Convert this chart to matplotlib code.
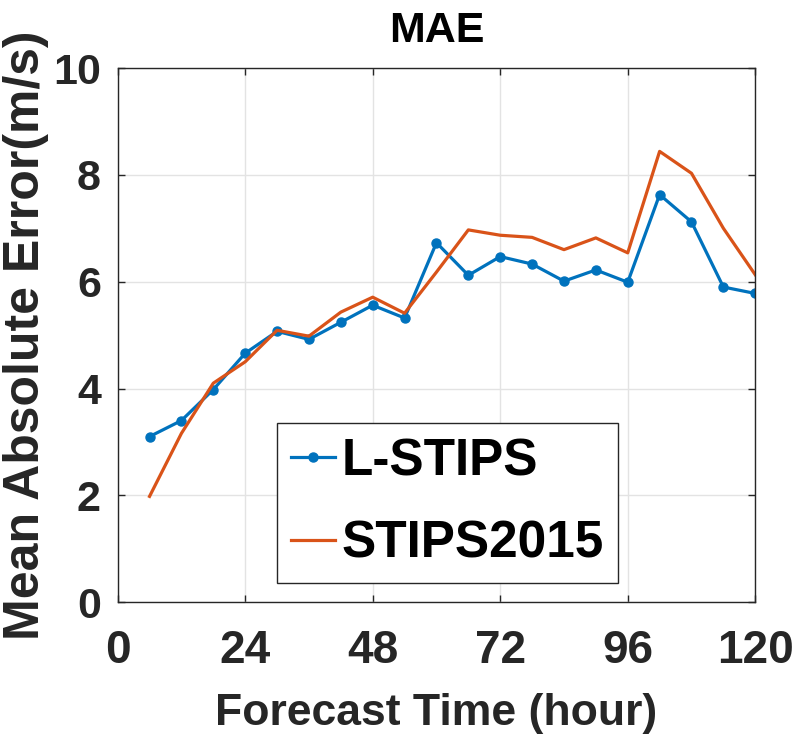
import numpy as np
import matplotlib
matplotlib.use('Agg')
import matplotlib.pyplot as plt

hours = [6, 12, 18, 24, 30, 36, 42, 48, 54, 60, 66, 72, 78, 84, 90, 96, 102, 108, 114, 120]
lstips = [3.10, 3.40, 3.98, 4.66, 5.07, 4.92, 5.24, 5.56, 5.32, 6.73, 6.12, 6.47, 6.33, 6.01, 6.22, 5.99, 7.63, 7.12, 5.90, 5.78]
stips2015 = [1.98, 3.16, 4.10, 4.50, 5.09, 4.98, 5.43, 5.71, 5.41, 6.18, 6.97, 6.87, 6.83, 6.60, 6.82, 6.54, 8.44, 8.03, 7.00, 6.13]
xticks = [0, 24, 48, 72, 96, 120]
yticks = [0, 2, 4, 6, 8, 10]

font = ['Liberation Sans', 'DejaVu Sans']
dark = '#262626'
blue = '#0072BD'
orange = '#D95319'

fig = plt.figure(figsize=(7.95, 7.48), dpi=100)
ax = fig.add_axes([0.148, 0.195, 0.802, 0.714])

ax.plot(hours, lstips, color=blue, lw=2.3, marker='o', ms=6.5, label='L-STIPS')
ax.plot(hours, stips2015, color=orange, lw=2.3, label='STIPS2015')

ax.set_xlim(0, 120)
ax.set_ylim(0, 10)
ax.set_xticks(xticks)
ax.set_yticks(yticks)
ax.grid(True, color='#e3e3e3', lw=1)
ax.set_axisbelow(True)
for s in ax.spines.values():
    s.set_color(dark)
    s.set_linewidth(1.0)
ax.tick_params(direction='in', length=5, width=1, color=dark, top=True, right=True)
ax.tick_params(axis='x', pad=19)
ax.tick_params(axis='y', pad=12)
for lab in ax.get_xticklabels():
    lab.set_fontfamily(font)
    lab.set_fontweight('bold')
    lab.set_fontsize(33)
    lab.set_color(dark)
for lab in ax.get_yticklabels():
    lab.set_fontfamily(font)
    lab.set_fontweight('bold')
    lab.set_fontsize(31)
    lab.set_color(dark)

ax.set_xlabel('Forecast Time (hour)', family=font, fontweight='bold',
              fontsize=32, color=dark, labelpad=15)
ax.set_ylabel('Mean Absolute Error(m/s)', family=font, fontweight='bold',
              fontsize=36, color=dark, labelpad=3)
ax.set_title('MAE', family=font, fontweight='bold', fontsize=31, pad=19)

leg = ax.legend(loc='lower left', bbox_to_anchor=(0.2496, 0.0356),
                prop={'family': font, 'weight': 'bold', 'size': 37},
                handlelength=0.85, handletextpad=0.13, labelspacing=0.65, borderpad=0.28,
                borderaxespad=0, fancybox=False, framealpha=1)
leg.get_frame().set_edgecolor(dark)
leg.get_frame().set_linewidth(1.0)

fig.savefig('out.png', dpi=100)
